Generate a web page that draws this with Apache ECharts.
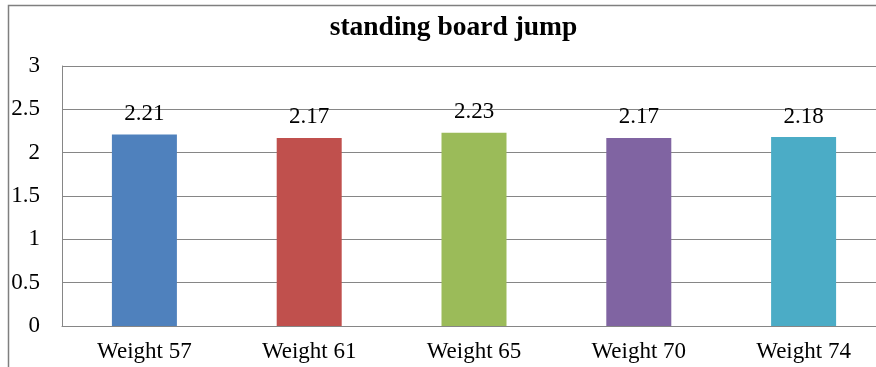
<!DOCTYPE html>
<html>
<head>
<meta charset="utf-8">
<script src="https://cdn.jsdelivr.net/npm/echarts@6/dist/echarts.min.js"></script>
<style>
html,body{margin:0;padding:0;background:#fff;overflow:hidden;width:876px;height:367px;}
#chart{width:900px;height:367px;}
</style>
</head>
<body>
<div id="chart"></div>
<script>
const titleText = 'standing board jump';
const categories = ['Weight 57', 'Weight 61', 'Weight 65', 'Weight 70', 'Weight 74'];
const values = [2.21, 2.17, 2.23, 2.17, 2.18];
const barColors = ['#4F81BD', '#C0504D', '#9BBB59', '#8064A2', '#4BACC6'];
const yTicks = [0, 0.5, 1, 1.5, 2, 2.5, 3];

const chart = echarts.init(document.getElementById('chart'), null, {renderer: 'canvas'});
const font = '"Liberation Serif", "Times New Roman", serif';
chart.setOption({
  animation: false,
  backgroundColor: '#fff',
  title: {
    text: titleText,
    left: 448.5,
    textAlign: 'center',
    top: 9,
    textStyle: {fontFamily: font, fontWeight: 'bold', fontSize: 27.5, color: '#000'}
  },
  graphic: [{
    type: 'rect',
    shape: {x: 8.5, y: 5.5, width: 1000, height: 500},
    style: {fill: 'none', stroke: '#7f7f7f', lineWidth: 1.5},
    silent: true
  }],
  grid: {left: 62, top: 66, bottom: 41, right: 14, containLabel: false},
  xAxis: {
    type: 'category',
    data: categories,
    axisTick: {show: false},
    axisLine: {lineStyle: {color: '#868686', width: 1}},
    axisLabel: {fontFamily: font, fontSize: 23, color: '#000', margin: 14}
  },
  yAxis: {
    type: 'value',
    min: yTicks[0],
    max: yTicks[yTicks.length - 1],
    interval: 0.5,
    axisLine: {show: true, lineStyle: {color: '#868686', width: 1}},
    axisTick: {show: false},
    splitLine: {lineStyle: {color: '#868686', width: 1}},
    axisLabel: {fontFamily: font, fontSize: 23, color: '#000', margin: 22}
  },
  series: [{
    type: 'bar',
    data: values.map((v, i) => ({value: v, itemStyle: {color: barColors[i]}})),
    barWidth: 65,
    label: {
      show: true,
      position: 'top',
      distance: 9,
      fontFamily: font,
      fontSize: 23,
      color: '#000'
    }
  }]
});
</script>
</body>
</html>
